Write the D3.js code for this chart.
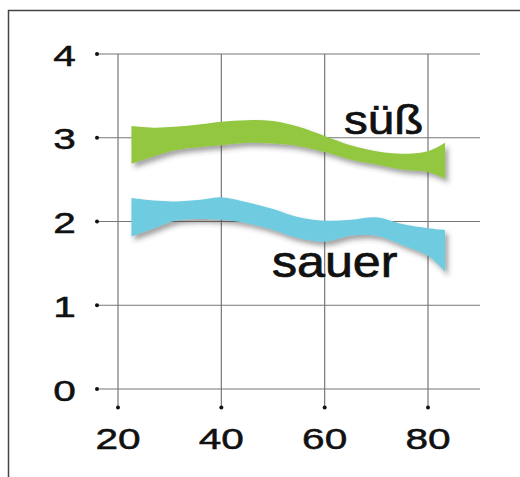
<!DOCTYPE html>
<html>
<head>
<meta charset="utf-8">
<script src="https://cdn.jsdelivr.net/npm/d3@7"></script>
<style>
  html, body { margin: 0; padding: 0; background: #fff; }
  svg { display: block; }
  text { font-family: "Liberation Sans", Arial, Helvetica, sans-serif; fill: #111; stroke: #111; }
</style>
</head>
<body>
<svg id="chart" width="520" height="477"></svg>
<script>
// ---- data ----
const ages = [22.6, 27, 31, 36, 40, 45, 50, 55, 60, 65, 70, 75, 80, 83.3];
const suessUpper = [3.14, 3.12, 3.13, 3.16, 3.19, 3.21, 3.20, 3.13, 3.02, 2.91, 2.84, 2.81, 2.84, 2.94];
const suessLower = [2.69, 2.78, 2.85, 2.89, 2.91, 2.94, 2.93, 2.90, 2.83, 2.74, 2.68, 2.62, 2.59, 2.51];
const sauerUpper = [2.28, 2.25, 2.24, 2.26, 2.29, 2.23, 2.15, 2.05, 2.01, 2.02, 2.05, 1.97, 1.92, 1.90];
const sauerLower = [1.82, 1.92, 2.01, 2.03, 2.02, 1.98, 1.90, 1.80, 1.76, 1.83, 1.83, 1.72, 1.59, 1.40];
const xTicks = [20, 40, 60, 80];
const yTicks = [0, 1, 2, 3, 4];
const seriesNames = ["süß", "sauer"];

// ---- layout ----
const svg = d3.select("#chart");
const x = d3.scaleLinear().domain([20, 80]).range([118, 428]);
const y = d3.scaleLinear().domain([0, 4]).range([389, 54]);

// frame (top + left)
svg.append("line").attr("x1", 8).attr("x2", 520).attr("y1", 10.5).attr("y2", 10.5)
  .attr("stroke", "#444").attr("stroke-width", 1.5);
svg.append("line").attr("x1", 8.5).attr("x2", 8.5).attr("y1", 10).attr("y2", 477)
  .attr("stroke", "#444").attr("stroke-width", 1.5);

// shadow filter
const defs = svg.append("defs");
const f = defs.append("filter").attr("id", "shadow")
  .attr("x", "-10%").attr("y", "-30%").attr("width", "130%").attr("height", "180%");
f.append("feDropShadow").attr("dx", 3).attr("dy", 4).attr("stdDeviation", 2.5)
  .attr("flood-color", "#333").attr("flood-opacity", 0.45);

// grid
const grid = svg.append("g");
grid.selectAll(".h").data(yTicks).join("line")
  .attr("x1", 97).attr("x2", 480)
  .attr("y1", d => y(d)).attr("y2", d => y(d))
  .attr("stroke", "#777").attr("stroke-width", 1.2);
grid.selectAll(".v").data(xTicks).join("line")
  .attr("x1", d => x(d)).attr("x2", d => x(d))
  .attr("y1", y(4)).attr("y2", 407.5)
  .attr("stroke", "#777").attr("stroke-width", 1.2);
grid.selectAll(".hd").data(yTicks).join("circle")
  .attr("cx", 97).attr("cy", d => y(d)).attr("r", 2).attr("fill", "#111");
grid.selectAll(".vd").data(xTicks).join("circle")
  .attr("cx", d => x(d)).attr("cy", 407.5).attr("r", 2).attr("fill", "#111");

// tick labels
svg.selectAll(".yl").data(yTicks).join("text")
  .attr("transform", d => `translate(64.5,${y(d) + 11.5}) scale(1.4,1)`)
  .attr("text-anchor", "middle").attr("font-size", 29).attr("stroke-width", 0.5).text(d => d);
svg.selectAll(".xl").data(xTicks).join("text")
  .attr("transform", d => `translate(${x(d)},448.5) scale(1.4,1)`)
  .attr("text-anchor", "middle").attr("font-size", 29).attr("stroke-width", 0.5).text(d => d);

// ribbons
const area = d3.area()
  .x(d => x(d.a)).y0(d => y(d.lo)).y1(d => y(d.hi))
  .curve(d3.curveCatmullRom.alpha(0.5));
const suess = ages.map((a, i) => ({ a, hi: suessUpper[i], lo: suessLower[i] }));
const sauer = ages.map((a, i) => ({ a, hi: sauerUpper[i], lo: sauerLower[i] }));
svg.append("path").datum(suess).attr("d", area).attr("fill", "#93c741").attr("filter", "url(#shadow)");
svg.append("path").datum(sauer).attr("d", area).attr("fill", "#6ecbe0").attr("filter", "url(#shadow)");

// series labels
svg.append("text").attr("transform", "translate(344,133.5) scale(1.16,1)")
  .attr("font-size", 41).attr("stroke-width", 0.7).text(seriesNames[0]);
svg.append("text").attr("transform", "translate(272,277) scale(1.14,1)")
  .attr("font-size", 44).attr("stroke-width", 0.7).text(seriesNames[1]);
</script>
</body>
</html>
